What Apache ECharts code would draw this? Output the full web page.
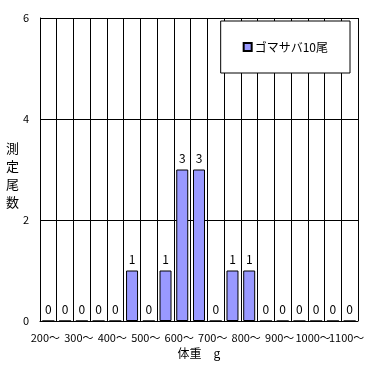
<!DOCTYPE html>
<html><head><meta charset="utf-8">
<script src="https://cdn.jsdelivr.net/npm/echarts@6/dist/echarts.min.js"></script>
<style>html,body{margin:0;padding:0;background:#fff}#c{width:375px;height:366px}</style>
</head><body><div id="c"></div>
<script>
const categories = ['200～','250～','300～','350～','400～','450～','500～','550～','600～','650～','700～','750～','800～','850～','900～','950～','1000～','1050～','1100～'];
const counts = [0,0,0,0,0,1,0,1,3,3,0,1,1,0,0,0,0,0,0];
const seriesName = 'ゴマサバ10尾';
const yTicks = {min:0, max:6, interval:2};
const xTitle = '体重　g';
const yTitle = '測定尾数';

const font = '"Noto Sans CJK JP", "DejaVu Sans", sans-serif';
const chart = echarts.init(document.getElementById('c'), null, {renderer:'canvas'});
chart.setOption({
  animation:false,
  backgroundColor:'#fff',
  textStyle:{fontFamily:font, color:'#000'},
  grid:{left:40, right:17, top:18, bottom:45, containLabel:false},
  legend:{
    data:[seriesName], right:25, top:21,
    backgroundColor:'#fff', borderColor:'#000', borderWidth:1,
    padding:[20,22,20,22],
    itemWidth:8, itemHeight:8, itemGap:2,
    icon:'rect',
    textStyle:{fontFamily:font, fontSize:12, color:'#000', padding:[0,0,0,-2]}
  },
  xAxis:{
    type:'category', data:categories,
    name:xTitle, nameLocation:'middle', nameGap:21,
    nameTextStyle:{fontFamily:font, fontSize:12, color:'#000'},
    axisLine:{show:true, lineStyle:{color:'#000', width:1}},
    axisTick:{show:false},
    axisLabel:{interval:0, showMaxLabel:true, showMinLabel:true, hideOverlap:false,
      formatter:(v,i)=> (i%2===0 ? v : ''),
      fontFamily:font, fontSize:11, color:'#000', margin:11, padding:[0,6,0,0]},
    splitLine:{show:true, interval:0, lineStyle:{color:'#000', width:1}}
  },
  yAxis:{
    type:'value', min:yTicks.min, max:yTicks.max, interval:yTicks.interval,
    axisLine:{show:true, lineStyle:{color:'#000', width:1}},
    axisTick:{show:false},
    axisLabel:{fontFamily:font, fontSize:11, color:'#000', margin:11},
    splitLine:{show:true, lineStyle:{color:'#000', width:1}}
  },
  graphic:[{
    type:'text', left:6, top:139,
    style:{text:yTitle.split('').join('\n'), font:'13px '+font, fill:'#000', lineHeight:18}
  }],
  series:[{
    name:seriesName, type:'bar', data:counts,
    barWidth:12,
    itemStyle:{color:'#9999FF', borderColor:'#000', borderWidth:1},
    label:{show:true, position:'top', distance:5, fontFamily:font, fontSize:12, color:'#000'}
  }]
});
</script></body></html>
